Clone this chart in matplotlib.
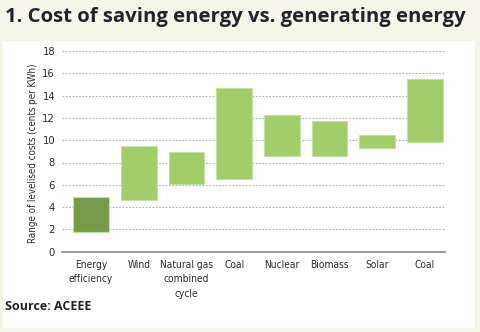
import matplotlib
matplotlib.use("Agg")
import matplotlib.pyplot as plt
from matplotlib.patches import Rectangle

# levelised cost ranges, cents per kWh
categories = ["Energy\nefficiency", "Wind", "Natural gas\ncombined\ncycle", "Coal",
              "Nuclear", "Biomass", "Solar", "Coal"]
low_cost = [1.8, 4.6, 6.1, 6.5, 8.6, 8.6, 9.3, 9.8]
high_cost = [4.9, 9.5, 8.9, 14.7, 12.3, 11.7, 10.5, 15.5]
bar_colors = ["#76994a"] + ["#a3cc6a"] * 7
y_ticks = [0, 2, 4, 6, 8, 10, 12, 14, 16, 18]

narrow = dict(family=["DejaVu Sans"], fontstretch="condensed")
cream = "#f5f6e9"
ink = "#2a2a30"

fig = plt.figure(figsize=(4.8, 3.32), dpi=100, facecolor=cream)

# white panel behind the chart
fig.patches.append(Rectangle((3 / 480, 1 - 328 / 332), 472 / 480, 287 / 332,
                             transform=fig.transFigure, facecolor="white",
                             edgecolor="none", zorder=0))

ax = fig.add_axes([62 / 480, 1 - 251.7 / 332, 383 / 480, 200.7 / 332])
ax.set_facecolor("none")
ax.set_zorder(2)

x = range(len(categories))
heights = [h - l for l, h in zip(low_cost, high_cost)]
ax.bar(x, heights, bottom=low_cost, width=0.75, color=bar_colors,
       edgecolor="#c2e29e", linewidth=0.8, zorder=3)

ax.set_xlim(-0.61, 7.42)
ax.set_ylim(0, 18)
ax.set_yticks(y_ticks)
ax.set_yticklabels([str(t) for t in y_ticks], fontsize=8, color=ink, **narrow)
ax.set_xticks(list(x))
ax.set_xticklabels(categories, fontsize=7.3, color=ink, linespacing=1.55,
                   va="top", **narrow)
ax.tick_params(axis="both", length=0)
ax.tick_params(axis="x", pad=6)
ax.tick_params(axis="y", pad=5)

for t in y_ticks[1:]:
    ax.axhline(t, color="#b0b0b0", linestyle=(0, (1.5, 1.5)), linewidth=0.8,
               zorder=1)

for side in ["left", "right", "top"]:
    ax.spines[side].set_visible(False)
ax.spines["bottom"].set_color("#8a8a8a")
ax.spines["bottom"].set_linewidth(1.2)

fig.text(33 / 480, 1 - 153 / 332, "Range of levelised costs (cents per KWh)",
         rotation=90, ha="center", va="center", fontsize=7, color=ink,
         **narrow)

fig.text(5 / 480, 1 - 17 / 332, "1. Cost of saving energy vs. generating energy",
         ha="left", va="center", fontsize=14.7, fontweight="bold",
         color="#23232e", family=["Open Sans", "DejaVu Sans"])

fig.text(5 / 480, 1 - 306 / 332, "Source: ACEEE", ha="left", va="center",
         fontsize=9, fontweight="bold", color="#23232e",
         family=["Open Sans", "DejaVu Sans"])

fig.savefig("out.png", dpi=100, facecolor=cream)
